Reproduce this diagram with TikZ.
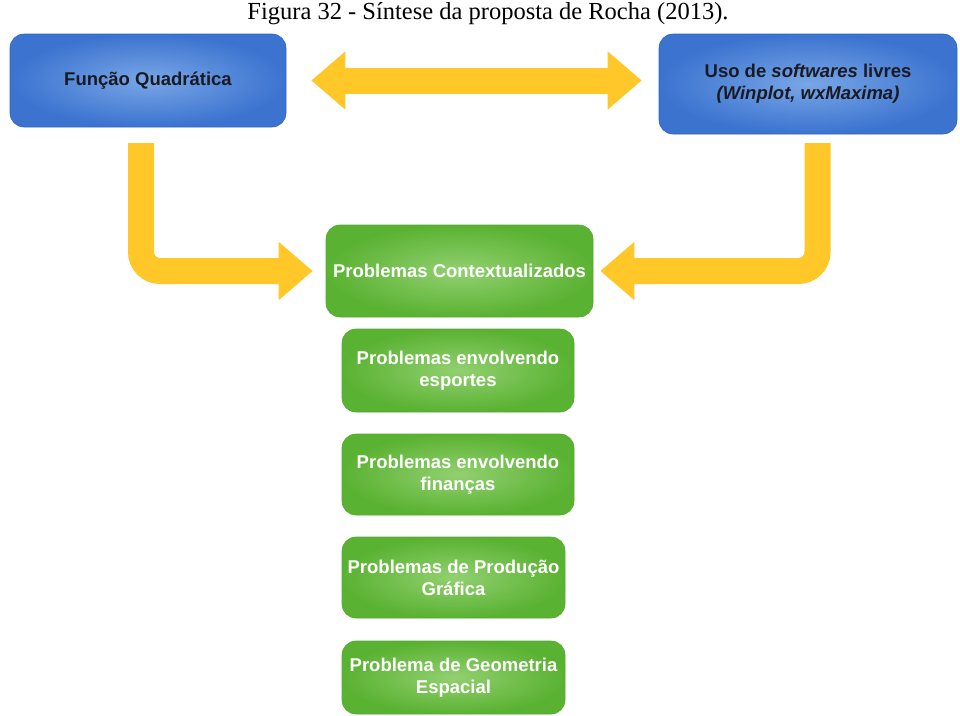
\documentclass[tikz,border=0pt]{standalone}
\usepackage{fontspec}
\setmainfont{Liberation Serif}
\newfontfamily\boxfont{Liberation Sans}
\usetikzlibrary{arrows.meta}

\definecolor{bluein}{HTML}{78A6E6}
\definecolor{blueout}{HTML}{3B73CF}
\definecolor{blueedge}{HTML}{3466BE}
\definecolor{greenin}{HTML}{92D070}
\definecolor{greenout}{HTML}{5AB232}
\definecolor{greenedge}{HTML}{55A92E}
\definecolor{arrowyellow}{HTML}{FFC727}
\definecolor{bluetext}{HTML}{1A1A24}

\tikzset{
  bluebox/.style={rounded corners=14pt, shading=radial, inner color=bluein,
    outer color=blueout, draw=blueedge, line width=0.6pt, align=center,
    font=\boxfont\bfseries\fontsize{18.5}{22}\selectfont, text=bluetext},
  greenbox/.style={rounded corners=14pt, shading=radial, inner color=greenin,
    outer color=greenout, draw=greenedge, line width=0.6pt, align=center,
    font=\boxfont\bfseries\fontsize{18.5}{22}\selectfont, text=white},
  fatarrow/.style={draw=arrowyellow, line width=26pt, line cap=butt,
    rounded corners=19pt},
  fattip/.tip={Triangle[width=56pt, length=34pt]}
}

\begin{document}
\begin{tikzpicture}[x=1pt, y=-1pt]
  \useasboundingbox (0,0) rectangle (960,715);

  % caption
  \node[font=\fontsize{24.5}{28}\selectfont, inner sep=0pt] (cap) at (488,14)
    {Figura 32 - Síntese da proposta de Rocha (2013).};

  % top row
  \node[bluebox, minimum width=276pt, minimum height=93pt] (fq) at (148,80.5)
    {Função Quadrática};
  \node[bluebox, minimum width=298pt, minimum height=100pt] (sw) at (808,84)
    {Uso de \textit{softwares} livres\\\textit{(Winplot, wxMaxima)}};

  % green column
  \node[greenbox, minimum width=267pt, minimum height=92pt] (pc) at (459.5,271)
    {Problemas Contextualizados};
  \node[greenbox, minimum width=232pt, minimum height=83pt] (p1) at (458,370.5)
    {Problemas envolvendo\\esportes};
  \node[greenbox, minimum width=232pt, minimum height=81pt] (p2) at (458,474.5)
    {Problemas envolvendo\\finanças};
  \node[greenbox, minimum width=223pt, minimum height=81pt] (p3) at (453.5,577.5)
    {Problemas de Produção\\Gráfica};
  \node[greenbox, minimum width=223pt, minimum height=73pt] (p4) at (453.5,677.5)
    {Problema de Geometria\\Espacial};

  % free ends of the bent arrows, just below the blue boxes
  \coordinate (lstart) at (141,143);
  \coordinate (rstart) at (817.5,143);

  % double arrow between the two blue boxes
  \draw[fatarrow, fattip-fattip] ([xshift=25pt]fq.east) -- ([xshift=-17pt]sw.west |- fq.east);

  % bent arrows into the main green box
  \draw[fatarrow, -fattip] (lstart) |- ([xshift=-13pt]pc.west);
  \draw[fatarrow, -fattip] (rstart) |- ([xshift=7pt]pc.east);
\end{tikzpicture}
\end{document}
